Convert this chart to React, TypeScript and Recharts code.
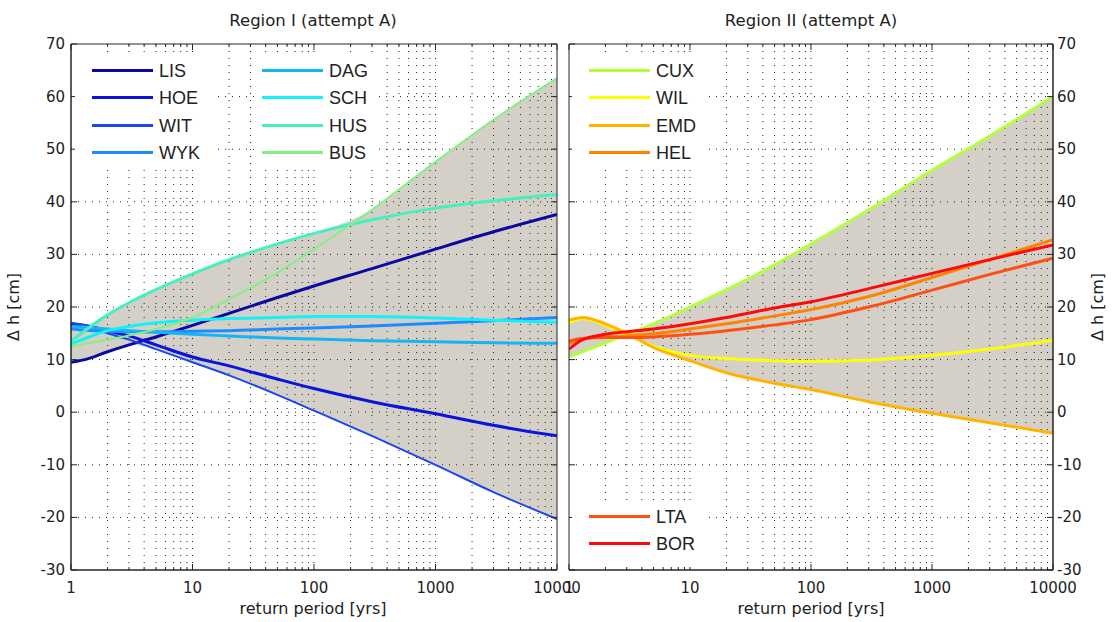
import React from "react";
import { ComposedChart, Line, Area, XAxis, YAxis, ReferenceLine, ReferenceArea } from "recharts";

// return periods (years) at which the curves were read
const periods = [1, 1.3, 2, 3, 5, 10, 20, 50, 100, 300, 1000, 3000, 10000];

// Region I
const lis = [9.5, 10, 11.5, 12.8, 14.3, 16.5, 18.8, 21.8, 24, 27.3, 31, 34.3, 37.6];
const hoe = [16.8, 16.5, 15.5, 14.5, 12.8, 10.5, 8.8, 6.3, 4.5, 2, -0.3, -2.5, -4.5];
const wit = [17, 16.5, 15, 13.8, 12, 9.5, 7, 3.3, 0.3, -4.5, -10, -15.2, -20.3];
const wyk = [15.8, 15.6, 15.4, 15.3, 15.3, 15.4, 15.5, 15.8, 16, 16.4, 16.9, 17.4, 18];
const dag = [16.3, 16.2, 15.8, 15.5, 15.2, 14.8, 14.5, 14.1, 13.9, 13.6, 13.4, 13.2, 13.1];
const sch = [13, 14, 15.5, 16.3, 17, 17.5, 17.8, 18, 18.2, 18.2, 17.9, 17.5, 17.1];
const hus = [13.5, 15.5, 18.5, 20.8, 23.3, 26.3, 29, 32, 34, 36.6, 38.8, 40.2, 41.4];
const bus = [12.5, 13, 13.8, 14.6, 15.8, 18, 21.5, 26.5, 31, 38.5, 47.6, 55.6, 63.5];

// Region II
const cux = [10.5, 11.5, 13.2, 14.8, 16.8, 20, 23.3, 28, 32, 38.5, 46, 52.5, 60];
const wil = [17, 17.8, 16.5, 14.8, 12.5, 10.8, 10.2, 9.8, 9.7, 9.9, 10.8, 12, 13.7];
const emd = [17.5, 18, 16.8, 15, 12.3, 9.8, 7.5, 5.5, 4.3, 2, -0.2, -2, -4];
const hel = [13, 14, 14.3, 14.5, 14.9, 15.8, 16.8, 18.3, 19.5, 22, 25.6, 29, 32.8];
const lta = [13.5, 14, 14.2, 14.2, 14.3, 14.8, 15.5, 16.6, 17.6, 20, 23.2, 26.2, 29.3];
const bor = [12, 13.8, 14.8, 15.3, 15.8, 16.8, 18, 19.8, 21, 23.5, 26.4, 29, 31.8];

const yTicks = [-30, -20, -10, 0, 10, 20, 30, 40, 50, 60, 70];
const majorTicks = [1, 10, 100, 1000, 10000];
const minorTicks = [1, 10, 100, 1000].flatMap((d) => [2, 3, 4, 5, 6, 7, 8, 9].map((m) => d * m));
const xTicks = [...majorTicks, ...minorTicks].sort((a, b) => a - b);

const region1 = [
  { name: "LIS", color: "#0a0aa0", width: 3, values: lis },
  { name: "HOE", color: "#0a14dc", width: 3, values: hoe },
  { name: "WIT", color: "#1e46f0", width: 2, values: wit },
  { name: "WYK", color: "#1e8cff", width: 3, values: wyk },
  { name: "DAG", color: "#14b4f5", width: 3, values: dag },
  { name: "SCH", color: "#14f0f5", width: 3, values: sch },
  { name: "HUS", color: "#46f0be", width: 3, values: hus },
  { name: "BUS", color: "#82f082", width: 2, values: bus },
];

const region2 = [
  { name: "CUX", color: "#b4ff3c", width: 3, values: cux },
  { name: "WIL", color: "#ffff00", width: 3, values: wil },
  { name: "EMD", color: "#ffb400", width: 3, values: emd },
  { name: "HEL", color: "#ff8200", width: 3, values: hel },
  { name: "LTA", color: "#ff5014", width: 3, values: lta },
  { name: "BOR", color: "#ff0a0a", width: 3, values: bor },
];

const TOP = 44;
const BOTTOM = 570;
const H = 622;
const tickFont = "'DejaVu Sans', sans-serif";
const axisColor = "#262626";

function buildRows(series) {
  return periods.map((p, i) => {
    const row: any = { p };
    const vals = series.map((s) => s.values[i]);
    series.forEach((s) => (row[s.name] = s.values[i]));
    row.band = [Math.min(...vals), Math.max(...vals)];
    return row;
  });
}

function makeXTick() {
  return (props: any) => {
    const { x, payload } = props;
    const major = majorTicks.includes(payload.value);
    const len = major ? 6 : 3;
    return (
      <g>
        <line x1={x} x2={x} y1={BOTTOM} y2={BOTTOM - len} stroke={axisColor} />
        <line x1={x} x2={x} y1={TOP} y2={TOP + len} stroke={axisColor} />
        {major && (
          <text x={x} y={593} textAnchor="middle" fontFamily={tickFont} fontSize={15} fill="#222">
            {payload.value}
          </text>
        )}
      </g>
    );
  };
}

function makeYTick(left: number, right: number, side: "left" | "right") {
  return (props: any) => {
    const { y, payload } = props;
    return (
      <g>
        <line x1={left} x2={left + 6} y1={y} y2={y} stroke={axisColor} />
        <line x1={right} x2={right - 6} y1={y} y2={y} stroke={axisColor} />
        <text
          x={side === "left" ? left - 6 : right + 4}
          y={y}
          dy={5}
          textAnchor={side === "left" ? "end" : "start"}
          fontFamily={tickFont}
          fontSize={15}
          fill="#222"
        >
          {payload.value}
        </text>
      </g>
    );
  };
}

function Panel({ series, side, width, margin, yWidth, plotLeft, plotRight }) {
  const rows = buildRows(series);
  return (
    <ComposedChart width={width} height={H} data={rows} margin={margin}>
      <XAxis
        dataKey="p"
        type="number"
        scale="log"
        domain={[1, 10000]}
        ticks={xTicks}
        interval={0}
        height={30}
        tickLine={false}
        axisLine={{ stroke: axisColor }}
        tick={makeXTick()}
        allowDataOverflow
      />
      <YAxis
        type="number"
        orientation={side}
        domain={[-30, 70]}
        ticks={yTicks}
        interval={0}
        width={yWidth}
        tickLine={false}
        axisLine={{ stroke: axisColor }}
        tick={makeYTick(plotLeft, plotRight, side)}
        allowDataOverflow
      />
      <Area
        type="monotone"
        dataKey="band"
        fill="#d4d0c8"
        fillOpacity={1}
        stroke="none"
        isAnimationActive={false}
      />
      {xTicks
        .filter((t) => t > 1 && t < 10000)
        .map((t) => (
          <ReferenceLine key={"x" + t} x={t} stroke="#222" strokeDasharray="1 6" zIndex={150} />
        ))}
      {yTicks
        .filter((t) => t > -30 && t < 70)
        .map((t) => (
          <ReferenceLine key={"y" + t} y={t} stroke="#222" strokeDasharray="1 6" zIndex={150} />
        ))}
      {series.map((s) => (
        <Line
          key={s.name}
          type="monotone"
          dataKey={s.name}
          stroke={s.color}
          strokeWidth={s.width}
          dot={false}
          activeDot={false}
          isAnimationActive={false}
        />
      ))}
      <ReferenceArea x1={1} x2={10000} y1={-30} y2={70} fill="none" fillOpacity={0} stroke={axisColor} zIndex={600} />
    </ComposedChart>
  );
}

function LegendBox({ items, left, top, width, height, sampleLeft }) {
  return (
    <div
      style={{
        position: "absolute",
        left,
        top,
        width,
        height,
        background: "#fff",
      }}
    >
      {items.map((s, i) => (
        <div key={s.name} style={{ position: "absolute", left: 0, top: 3 + i * 27.3, height: 26, width }}>
          <div
            style={{
              position: "absolute",
              left: sampleLeft,
              top: 11,
              width: 61,
              height: 3,
              background: s.color,
            }}
          />
          <span
            style={{
              position: "absolute",
              left: sampleLeft + 67,
              top: 1,
              fontFamily: "'Liberation Sans', Arial, sans-serif",
              fontSize: 18,
              color: "#222",
              lineHeight: "24px",
            }}
          >
            {s.name}
          </span>
        </div>
      ))}
    </div>
  );
}

const textStyle: React.CSSProperties = {
  position: "absolute",
  fontFamily: tickFont,
  fontSize: 16,
  color: "#222",
  whiteSpace: "nowrap",
};

export default function App() {
  return (
    <div style={{ position: "absolute", left: 0, top: 0, width: 1112, height: H, background: "#fff", overflow: "hidden" }}>
      <div style={{ position: "absolute", left: 0, top: 0 }}>
        <Panel
          series={region1}
          side="left"
          width={600}
          margin={{ top: TOP, right: 43, bottom: 22, left: 0 }}
          yWidth={71}
          plotLeft={71}
          plotRight={557}
        />
      </div>
      <div style={{ position: "absolute", left: 556, top: 0 }}>
        <Panel
          series={region2}
          side="right"
          width={556}
          margin={{ top: TOP, right: 0, bottom: 22, left: 13 }}
          yWidth={59}
          plotLeft={13}
          plotRight={497}
        />
      </div>

      <LegendBox items={region1.slice(0, 4)} left={75} top={55} width={140} height={113} sampleLeft={17} />
      <LegendBox items={region1.slice(4)} left={255} top={55} width={123} height={113} sampleLeft={7} />
      <LegendBox items={region2.slice(0, 4)} left={572} top={55} width={133} height={113} sampleLeft={17} />
      <LegendBox items={region2.slice(4)} left={572} top={501} width={133} height={66} sampleLeft={17} />

      <div style={{ ...textStyle, left: 313, top: 11, fontSize: 16.5, transform: "translateX(-50%)" }}>Region I (attempt A)</div>
      <div style={{ ...textStyle, left: 811, top: 11, fontSize: 16.5, transform: "translateX(-50%)" }}>Region II (attempt A)</div>
      <div style={{ ...textStyle, left: 313, top: 599, transform: "translateX(-50%)" }}>return period [yrs]</div>
      <div style={{ ...textStyle, left: 811, top: 599, transform: "translateX(-50%)" }}>return period [yrs]</div>
      <div style={{ ...textStyle, left: 13, top: 307, transform: "translate(-50%, -50%) rotate(-90deg)" }}>Δ h [cm]</div>
      <div style={{ ...textStyle, left: 1097, top: 307, transform: "translate(-50%, -50%) rotate(-90deg)" }}>Δ h [cm]</div>
    </div>
  );
}
